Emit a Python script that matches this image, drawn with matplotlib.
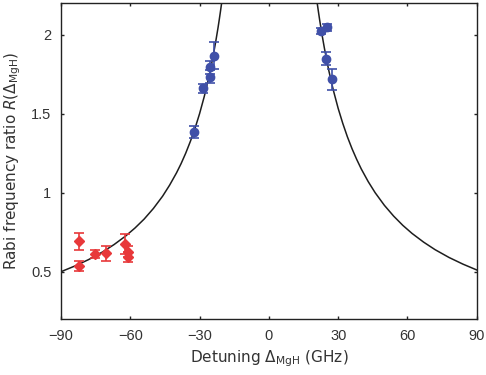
import matplotlib
matplotlib.use("Agg")
import matplotlib.pyplot as plt
from matplotlib.ticker import FixedLocator, FuncFormatter

# theory curve points (left and right branches)
curve_left_x = [-90, -84, -78, -72, -67, -62, -58, -54, -50, -46, -43, -40, -38, -36, -34, -32, -30, -28, -27, -26, -25, -24, -23, -22, -21.5, -21, -20.5]
curve_left_y = [0.500, 0.536, 0.577, 0.625, 0.672, 0.726, 0.776, 0.833, 0.900, 0.978, 1.047, 1.125, 1.184, 1.250, 1.324, 1.406, 1.500, 1.607, 1.667, 1.731, 1.800, 1.875, 1.957, 2.045, 2.093, 2.143, 2.195]
curve_right_x = [20.9, 21.5, 22, 23, 24, 25, 26, 27, 28, 30, 32, 34, 36, 38, 40, 43, 46, 50, 54, 58, 62, 67, 72, 78, 84, 90]
curve_right_y = [2.201, 2.140, 2.091, 2.000, 1.917, 1.840, 1.769, 1.704, 1.643, 1.533, 1.438, 1.353, 1.278, 1.211, 1.150, 1.070, 1.000, 0.920, 0.852, 0.793, 0.742, 0.687, 0.639, 0.590, 0.548, 0.511]

# red (diamond) data
red_x = [-82.1, -82.1, -75.3, -70.3, -62.3, -60.8, -60.8]
red_y = [0.692, 0.538, 0.612, 0.616, 0.675, 0.627, 0.595]
red_err = [0.053, 0.032, 0.025, 0.049, 0.063, 0.034, 0.032]

# blue (circle) data
blue_x = [-32.3, -28.6, -25.4, -25.7, -23.7, 22.5, 25.1, 24.9, 27.4]
blue_y = [1.386, 1.660, 1.734, 1.793, 1.867, 2.021, 2.046, 1.848, 1.717]
blue_err = [0.037, 0.030, 0.040, 0.040, 0.085, 0.020, 0.020, 0.040, 0.066]

x_ticks = [-90, -60, -30, 0, 30, 60, 90]
y_ticks = [0.5, 1, 1.5, 2]

plt.rcParams['font.family'] = ['DejaVu Sans']
plt.rcParams['mathtext.fontset'] = 'dejavusans'

fig = plt.figure(figsize=(4.86, 3.75), dpi=100)
ax = fig.add_axes([0.1255, 0.149, 0.8555, 0.843])

ax.plot(curve_left_x, curve_left_y, color='#1e1e1e', lw=1.1, zorder=2)
ax.plot(curve_right_x, curve_right_y, color='#1e1e1e', lw=1.1, zorder=2)

red = '#e8383a'
blue = '#4050a8'
ax.errorbar(red_x, red_y, yerr=red_err, fmt='D', color=red, ms=5,
            mfc=red, mec=red, ecolor=red, elinewidth=1.2, capsize=3.5,
            capthick=1.2, zorder=3)
ax.errorbar(blue_x, blue_y, yerr=blue_err, fmt='o', color=blue, ms=6,
            mfc=blue, mec=blue, ecolor=blue, elinewidth=1.2, capsize=3.5,
            capthick=1.2, zorder=3)

ax.set_xlim(-90, 90)
ax.set_ylim(0.2, 2.2)
ax.xaxis.set_major_locator(FixedLocator(x_ticks))
ax.yaxis.set_major_locator(FixedLocator(y_ticks))
ax.xaxis.set_major_formatter(FuncFormatter(lambda v, p: ('%d' % v).replace('-', '\u2212')))
ax.yaxis.set_major_formatter(FuncFormatter(lambda v, p: ('%g' % v)))
ax.tick_params(direction='in', top=True, right=True, length=2.5, width=1,
               labelsize=10.5, colors='#222222', labelcolor='#333333', pad=7)
for lab in ax.get_xticklabels() + ax.get_yticklabels():
    lab.set_family(['Liberation Sans', 'DejaVu Sans'])
for s in ax.spines.values():
    s.set_linewidth(1.0)
    s.set_color('#222222')

ax.set_xlabel(r'Detuning $\Delta_{\mathrm{MgH}}$ (GHz)', fontsize=11, color='#333333', labelpad=4)
ax.set_ylabel(r'Rabi frequency ratio $R(\Delta_{\mathrm{MgH}})$', fontsize=11, color='#333333', labelpad=6)

fig.savefig('out.png', dpi=100)
